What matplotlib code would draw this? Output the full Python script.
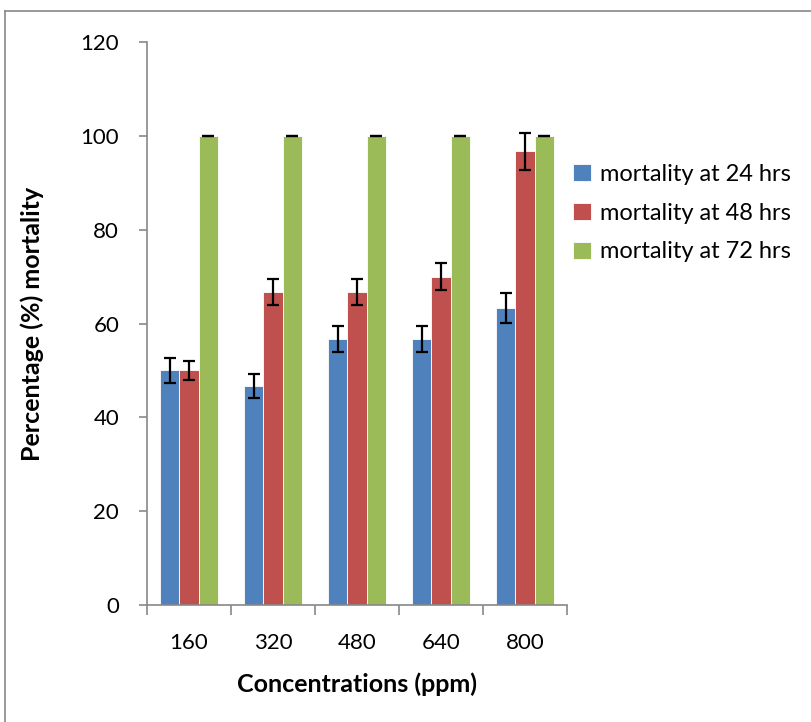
import matplotlib
matplotlib.use("Agg")
import matplotlib.pyplot as plt
from matplotlib.lines import Line2D
import numpy as np

# data
concentrations = ["160", "320", "480", "640", "800"]
mort24 = [50.0, 46.7, 56.7, 56.7, 63.3]
mort48 = [50.0, 66.7, 66.7, 70.0, 96.7]
mort72 = [100.0, 100.0, 100.0, 100.0, 100.0]
err24 = [2.6, 2.5, 2.8, 2.8, 3.2]
err48 = [2.0, 2.7, 2.7, 2.8, 3.9]
err72 = [0.0, 0.0, 0.0, 0.0, 0.0]
labels = ["mortality at 24 hrs", "mortality at 48 hrs", "mortality at 72 hrs"]
colors = ["#4F81BD", "#C0504D", "#9BBB59"]

plt.rcParams["font.family"] = ["Lato", "DejaVu Sans"]

fig = plt.figure(figsize=(8.11, 7.22), dpi=100)
ax = fig.add_axes([147 / 811, 117 / 722, 420 / 811, 563 / 722])

x = np.arange(len(concentrations))
w = 0.228
series = [(mort24, err24), (mort48, err48), (mort72, err72)]
handles = []
for i, (vals, errs) in enumerate(series):
    b = ax.bar(x + (i - 1) * w, vals, w, color=colors[i], edgecolor="white",
               linewidth=0.6, label=labels[i], zorder=2)
    ax.errorbar(x + (i - 1) * w, vals, yerr=errs, fmt="none", ecolor="black",
                elinewidth=1.6, capsize=4.5, capthick=1.6, zorder=3)
    handles.append(b)

ax.set_xlim(-0.5, 4.5)
ax.set_ylim(0, 120)
ax.set_yticks(range(0, 121, 20))
ax.set_xticks(x)
ax.set_xticklabels(concentrations)
ax.set_xticks(np.arange(-0.5, 5, 1), minor=True)

for s in ["top", "right"]:
    ax.spines[s].set_visible(False)
for s in ["left", "bottom"]:
    ax.spines[s].set_color("#888888")
    ax.spines[s].set_linewidth(1.2)

ax.tick_params(axis="y", direction="out", length=6, width=1.2, color="#888888",
               labelsize=16, pad=14)
ax.tick_params(axis="x", which="major", length=0, labelsize=16, pad=20)
ax.tick_params(axis="x", which="minor", direction="out", length=7, width=1.2,
               color="#888888")

ax.set_xlabel("Concentrations (ppm)", fontsize=18, fontweight="bold", labelpad=14)
ax.set_ylabel("Percentage (%) mortality", fontsize=18, fontweight="bold", labelpad=26)

fig.legend(handles=handles, labels=labels, loc="upper left",
           bbox_to_anchor=(573 / 811, 1 - 164 / 722), frameon=False,
           borderpad=0, borderaxespad=0,
           fontsize=17, handlelength=0.75, handleheight=0.75, handletextpad=0.4,
           labelspacing=0.75)

# outer chart border (only top and left edges visible)
fig.add_artist(Line2D([5 / 811, 1], [1 - 11 / 722, 1 - 11 / 722],
                      transform=fig.transFigure, color="#888888", lw=1.2))
fig.add_artist(Line2D([5 / 811, 5 / 811], [0, 1 - 11 / 722],
                      transform=fig.transFigure, color="#888888", lw=1.2))

fig.savefig("out.png", dpi=100, facecolor="white")
